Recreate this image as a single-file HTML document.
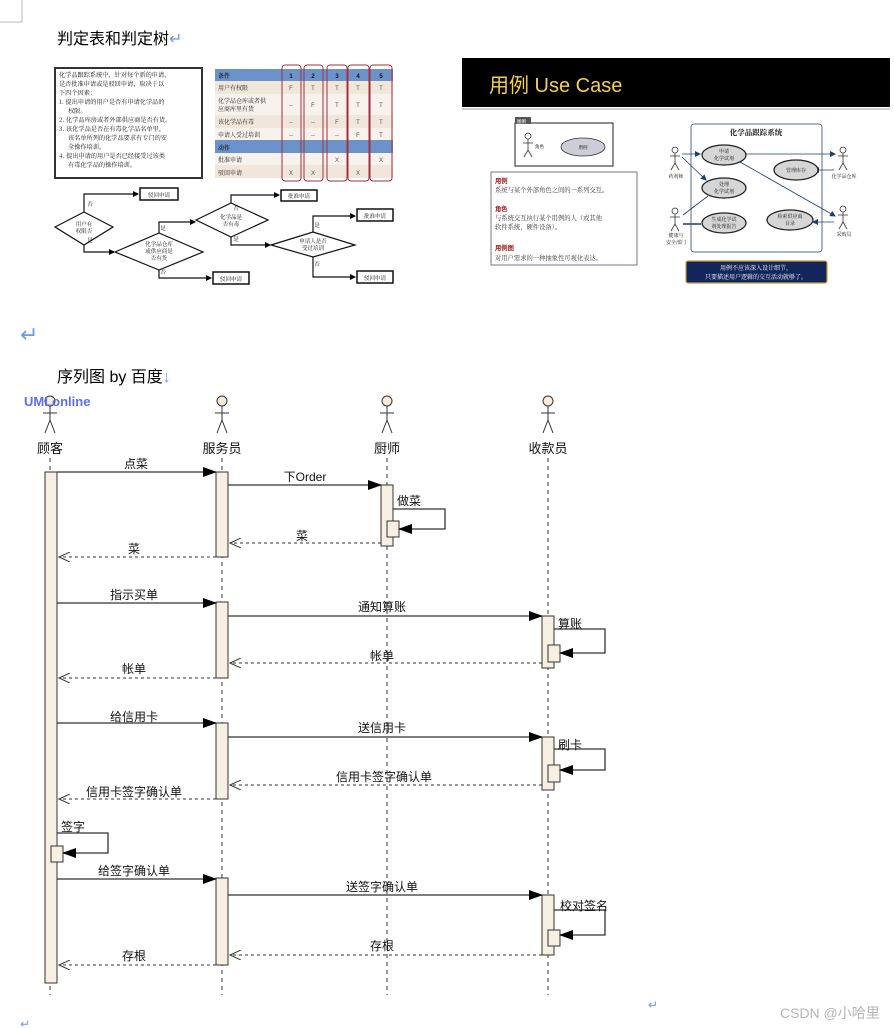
<!DOCTYPE html>
<html><head><meta charset="utf-8"><style>
html,body{margin:0;padding:0;background:#fff;}
svg{display:block;}
text{font-family:"Liberation Sans","Noto Sans CJK SC",sans-serif;}
.s{font-family:"Noto Serif CJK SC","Liberation Serif",serif;}
</style></head><body>
<svg width="894" height="1028" viewBox="0 0 894 1028" xmlns="http://www.w3.org/2000/svg">
<defs>
<marker id="af" markerWidth="14" markerHeight="10" refX="13" refY="5" orient="auto" markerUnits="userSpaceOnUse"><path d="M0,0 L14,5 L0,10 Z" fill="#000"/></marker>
<marker id="ao" markerWidth="12" markerHeight="10" refX="11" refY="5" orient="auto" markerUnits="userSpaceOnUse"><path d="M0,0 L11,5 L0,10" fill="none" stroke="#333" stroke-width="1"/></marker>
<marker id="as" markerWidth="6" markerHeight="6" refX="5" refY="3" orient="auto" markerUnits="userSpaceOnUse"><path d="M0,0 L6,3 L0,6 Z" fill="#000"/></marker>
<marker id="an" markerWidth="6" markerHeight="6" refX="5" refY="3" orient="auto" markerUnits="userSpaceOnUse"><path d="M0,0 L6,3 L0,6 Z" fill="#1f3b7a"/></marker>
</defs>
<path d="M22,0 L22,22 L0,22" fill="none" stroke="#bbb" stroke-width="1"/>
<text x="57" y="44" font-size="16" fill="#000">判定表和判定树<tspan fill="#6a9be8">↵</tspan></text>

<rect x="55" y="68" width="147" height="110" fill="#fff" stroke="#333" stroke-width="2"/>
<g class="s" font-size="6.2" fill="#111">
<text x="59" y="77" class="s">化学品跟踪系统中，针对每个新的申请，</text>
<text x="59" y="86" class="s">是否批准申请或是驳回申请，取决于以</text>
<text x="59" y="95" class="s">下四个因素：</text>
<text x="59" y="104" class="s">1.  提出申请的用户是否有申请化学品的</text>
<text x="68" y="113" class="s">权限。</text>
<text x="59" y="122" class="s">2.  化学品库房或者外部供应商是否有货。</text>
<text x="59" y="131" class="s">3.  该化学品是否在有毒化学品名单里，</text>
<text x="68" y="140" class="s">该名单所列的化学品要求有专门的安</text>
<text x="68" y="149" class="s">全操作培训。</text>
<text x="59" y="158" class="s">4.  提出申请的用户是否已经接受过该类</text>
<text x="68" y="167" class="s">有毒化学品的操作培训。</text>
</g>
<rect x="215" y="69" width="178" height="12" fill="#6b93c9"/>
<rect x="215" y="81" width="178" height="13" fill="#f1e6db"/>
<rect x="215" y="94" width="178" height="21" fill="#f8f2ec"/>
<rect x="215" y="115" width="178" height="13" fill="#f1e6db"/>
<rect x="215" y="128" width="178" height="12" fill="#f8f2ec"/>
<rect x="215" y="140" width="178" height="13" fill="#6b93c9"/>
<rect x="215" y="153" width="178" height="12" fill="#f8f2ec"/>
<rect x="215" y="165" width="178" height="13" fill="#f1e6db"/>
<g font-size="6" fill="#222" class="s">
<text x="218" y="78" fill="#223" font-weight="bold" class="s">条件</text>
<text x="218" y="90" class="s">用户有权限</text>
<text x="218" y="103" class="s">化学品仓库或者供</text><text x="218" y="111" class="s">应商库里有货</text>
<text x="218" y="124" class="s">该化学品有毒</text>
<text x="218" y="137" class="s">申请人受过培训</text>
<text x="218" y="150" fill="#223" font-weight="bold" class="s">动作</text>
<text x="218" y="162" class="s">批准申请</text>
<text x="218" y="175" class="s">驳回申请</text>
</g>
<g font-size="6" fill="#555" text-anchor="middle">
<text x="291" y="78" fill="#111" font-weight="bold">1</text><text x="313" y="78" fill="#111" font-weight="bold">2</text><text x="337" y="78" fill="#111" font-weight="bold">3</text><text x="358" y="78" fill="#111" font-weight="bold">4</text><text x="381" y="78" fill="#111" font-weight="bold">5</text>
<text x="291" y="90">F</text><text x="313" y="90">T</text><text x="337" y="90">T</text><text x="358" y="90">T</text><text x="381" y="90">T</text>
<text x="291" y="107">--</text><text x="313" y="107">F</text><text x="337" y="107">T</text><text x="358" y="107">T</text><text x="381" y="107">T</text>
<text x="291" y="124">--</text><text x="313" y="124">--</text><text x="337" y="124">F</text><text x="358" y="124">T</text><text x="381" y="124">T</text>
<text x="291" y="137">--</text><text x="313" y="137">--</text><text x="337" y="137">--</text><text x="358" y="137">F</text><text x="381" y="137">T</text>
<text x="337" y="162">X</text><text x="381" y="162">X</text>
<text x="291" y="175">X</text><text x="313" y="175">X</text><text x="358" y="175">X</text>
</g>
<g fill="none" stroke="#a03040" stroke-width="1">
<rect x="282" y="65" width="19" height="116" rx="3"/>
<rect x="304" y="65" width="19" height="116" rx="3"/>
<rect x="327" y="65" width="20" height="116" rx="3"/>
<rect x="348" y="65" width="21" height="116" rx="3"/>
<rect x="370" y="65" width="22" height="116" rx="3"/>
</g>
<g fill="none" stroke="#111" stroke-width="1.2">
<polygon points="55,227 84,212 113,227 84,245" fill="#fff"/>
<polygon points="115,252 159,233 203,252 159,270" fill="#fff"/>
<polygon points="196,220 231,203 268,220 231,237" fill="#fff"/>
<polygon points="271,245 313,232 355,245 313,257" fill="#fff"/>
<path d="M84,212 V194 H138" marker-end="url(#as)"/>
<path d="M84,245 V252 H114" marker-end="url(#as)"/>
<path d="M159,233 V222 H195" marker-end="url(#as)"/>
<path d="M159,270 V278 H211" marker-end="url(#as)"/>
<path d="M231,203 V195 H279" marker-end="url(#as)"/>
<path d="M231,237 V245 H270" marker-end="url(#as)"/>
<path d="M313,232 V216 H355" marker-end="url(#as)"/>
<path d="M313,257 V277 H355" marker-end="url(#as)"/>
<rect x="140" y="188" width="38" height="12" stroke-width="1.5" fill="#fff"/>
<rect x="213" y="272" width="36" height="12" stroke-width="1.5" fill="#fff"/>
<rect x="281" y="190" width="36" height="11" stroke-width="1.5" fill="#fff"/>
<rect x="357" y="209" width="36" height="12" stroke-width="1.5" fill="#fff"/>
<rect x="357" y="271" width="36" height="12" stroke-width="1.5" fill="#fff"/>
</g>
<g font-size="5.5" fill="#111" text-anchor="middle" class="s">
<text x="159" y="197" class="s">驳回申请</text>
<text x="231" y="281" class="s">驳回申请</text>
<text x="299" y="198" class="s">批准申请</text>
<text x="375" y="218" class="s">批准申请</text>
<text x="375" y="280" class="s">驳回申请</text>
<text x="84" y="226" class="s">用户有</text><text x="84" y="233" class="s">权限否</text>
<text x="159" y="246" class="s">化学品仓库</text><text x="159" y="253" class="s">或供应商是</text><text x="159" y="260" class="s">否有货</text>
<text x="231" y="219" class="s">化学品是</text><text x="231" y="226" class="s">否有毒</text>
<text x="313" y="243" class="s">申请人是否</text><text x="313" y="250" class="s">受过培训</text>
<text x="90" y="206" class="s">否</text><text x="90" y="242" class="s">是</text>
<text x="163" y="230" class="s">是</text><text x="163" y="274" class="s">否</text>
<text x="236" y="210" class="s">否</text><text x="236" y="241" class="s">是</text>
<text x="317" y="227" class="s">是</text><text x="317" y="266" class="s">否</text>
</g>

<rect x="462" y="58" width="428" height="49" fill="#000"/>
<line x1="462" y1="109" x2="890" y2="109" stroke="#999" stroke-width="1"/>
<text x="489" y="92" font-size="20" fill="#f4d050">用例 Use Case</text>
<rect x="515" y="123" width="98" height="43" fill="#fff" stroke="#444" stroke-width="1.2"/>
<rect x="515" y="117" width="16" height="7" fill="#555"/>
<text x="517" y="123" font-size="4.5" fill="#fff">图例</text>
<g stroke="#333" stroke-width="0.8" fill="none">
<circle cx="528" cy="136" r="3" fill="#fff"/><path d="M528,139 V150 M523,143 H533 M528,150 L524,157 M528,150 L532,157"/>
</g>
<text x="535" y="148" font-size="4.5" fill="#333">角色</text>
<ellipse cx="583" cy="147" rx="22" ry="9" fill="#cccdd8" stroke="#333" stroke-width="0.8"/>
<text x="583" y="149" font-size="4.5" fill="#333" text-anchor="middle">用例</text>
<rect x="491" y="172" width="146" height="93" fill="#fff" stroke="#778" stroke-width="1"/>
<g font-size="6.3">
<text x="495" y="183" fill="#a01818" font-weight="bold">用例</text>
<text x="495" y="192" fill="#333" class="s">系统与某个外部角色之间的一系列交互。</text>
<text x="495" y="211" fill="#a01818" font-weight="bold">角色</text>
<text x="495" y="220" fill="#333" class="s">与系统交互执行某个用例的人（或其他</text>
<text x="495" y="229" fill="#333" class="s">软件系统，硬件设备）。</text>
<text x="495" y="250" fill="#a01818" font-weight="bold">用例图</text>
<text x="495" y="260" fill="#333" class="s">对用户需求的一种抽象性可视化表达。</text>
</g>
<rect x="691" y="124" width="131" height="128" rx="3" fill="#fff" stroke="#5a6a9a" stroke-width="1"/>
<text x="756" y="135" font-size="7.5" fill="#111" text-anchor="middle" class="s" font-weight="bold">化学品跟踪系统</text>
<g stroke="#333" stroke-width="0.8" fill="none">
<circle cx="675" cy="150" r="3" fill="#fff"/><path d="M675,153 V163 M670,156 H680 M675,163 L671,170 M675,163 L679,170"/>
<circle cx="675" cy="211" r="3" fill="#fff"/><path d="M675,214 V224 M670,217 H680 M675,224 L671,231 M675,224 L679,231"/>
<circle cx="843" cy="150" r="3" fill="#fff"/><path d="M843,153 V163 M838,156 H848 M843,163 L839,170 M843,163 L847,170"/>
<circle cx="843" cy="209" r="3" fill="#fff"/><path d="M843,212 V222 M838,215 H848 M843,222 L839,229 M843,222 L847,229"/>
</g>
<g stroke="#1f3b7a" stroke-width="0.8" fill="none">
<path d="M682,154 H700" marker-end="url(#an)"/>
<path d="M682,157 L706,180" marker-end="url(#an)"/>
<path d="M683,215 L708,196"/>
<path d="M683,224 H701" stroke-width="1.5"/>
<path d="M746,154 H835" marker-end="url(#an)"/>
<path d="M740,162 L835,216" marker-end="url(#an)"/>
<path d="M834,170 H814" marker-end="url(#an)"/>
<path d="M834,222 H813" marker-end="url(#an)"/>
</g>
<g stroke="#222" stroke-width="1.3" fill="#d6d6d6">
<ellipse cx="724" cy="155" rx="22" ry="10"/>
<ellipse cx="796" cy="170" rx="22" ry="10"/>
<ellipse cx="724" cy="188" rx="22" ry="10"/>
<ellipse cx="724" cy="223" rx="22" ry="10"/>
<ellipse cx="790" cy="220" rx="23" ry="10"/>
</g>
<g font-size="5" fill="#111" text-anchor="middle" class="s">
<text x="724" y="153" class="s">申请</text><text x="724" y="160" class="s">化学试剂</text>
<text x="796" y="172" class="s">管理库存</text>
<text x="724" y="186" class="s">处理</text><text x="724" y="193" class="s">化学试剂</text>
<text x="724" y="221" class="s">生成化学试</text><text x="724" y="228" class="s">剂处理报告</text>
<text x="790" y="218" class="s">检索供应商</text><text x="790" y="225" class="s">目录</text>
<text x="676" y="178" class="s">药剂师</text>
<text x="676" y="237" class="s">健康与</text><text x="676" y="244" class="s">安全部门</text>
<text x="844" y="178" class="s">化学品仓库</text>
<text x="844" y="236" class="s">采购员</text>
</g>
<rect x="686" y="261" width="141" height="22" rx="2" fill="#13255a" stroke="#c9a030" stroke-width="1.2"/>
<text x="756" y="270" font-size="6" fill="#fff" text-anchor="middle" class="s">用例不应该深入设计细节，</text>
<text x="756" y="279" font-size="6" fill="#fff" text-anchor="middle" class="s">只要描述用户逻辑的交互活动就够了。</text>

<text x="20" y="342" font-size="22" fill="#6a9be8">↵</text>
<text x="57" y="382" font-size="16" fill="#000">序列图 by 百度<tspan fill="#6a9be8">↓</tspan></text>

<g stroke="#333" stroke-width="1" fill="none">
<g><circle cx="50" cy="401" r="5" fill="#f6ecd9"/><path d="M50,406 V420 M43,413 H57 M50,420 L45,433 M50,420 L55,433"/></g>
<g><circle cx="222" cy="401" r="5" fill="#f6ecd9"/><path d="M222,406 V420 M215,413 H229 M222,420 L217,433 M222,420 L227,433"/></g>
<g><circle cx="387" cy="401" r="5" fill="#f6ecd9"/><path d="M387,406 V420 M380,413 H394 M387,420 L382,433 M387,420 L392,433"/></g>
<g><circle cx="548" cy="401" r="5" fill="#f6ecd9"/><path d="M548,406 V420 M541,413 H555 M548,420 L543,433 M548,420 L553,433"/></g>
<g stroke-dasharray="4,4"><path d="M50,458 V995"/><path d="M222,458 V995"/><path d="M387,458 V995"/><path d="M548,458 V995"/></g>
</g>
<text x="24" y="406" font-size="13" fill="#5d6df0" font-weight="bold">UMLonline</text>
<g font-size="13" fill="#111" text-anchor="middle">
<text x="50" y="453">顾客</text><text x="222" y="453">服务员</text><text x="387" y="453">厨师</text><text x="548" y="453">收款员</text>
</g>
<g fill="#f7efe2" stroke="#333" stroke-width="1">
<rect x="45" y="472" width="12" height="511"/>
<rect x="216" y="472" width="12" height="85"/>
<rect x="216" y="602" width="12" height="76"/>
<rect x="216" y="723" width="12" height="76"/>
<rect x="216" y="878" width="12" height="87"/>
<rect x="381" y="485" width="12" height="61"/>
<rect x="542" y="616" width="12" height="52"/>
<rect x="542" y="737" width="12" height="53"/>
<rect x="542" y="895" width="12" height="60"/>
<rect x="387" y="521" width="12" height="16"/>
<rect x="548" y="645" width="12" height="17"/>
<rect x="548" y="765" width="12" height="17"/>
<rect x="548" y="930" width="12" height="16"/>
<rect x="51" y="846" width="12" height="16"/>
</g>
<g stroke="#333" stroke-width="1.3" fill="none">
<path d="M57,472 H216" marker-end="url(#af)"/>
<path d="M228,485 H381" marker-end="url(#af)"/>
<path d="M393,509 H445 V529 H399" marker-end="url(#af)"/>
<path d="M57,603 H216" marker-end="url(#af)"/>
<path d="M228,616 H542" marker-end="url(#af)"/>
<path d="M554,629 H605 V653 H560" marker-end="url(#af)"/>
<path d="M57,723 H216" marker-end="url(#af)"/>
<path d="M228,737 H542" marker-end="url(#af)"/>
<path d="M554,749 H605 V770 H560" marker-end="url(#af)"/>
<path d="M57,833 H108 V853 H63" marker-end="url(#af)"/>
<path d="M57,879 H216" marker-end="url(#af)"/>
<path d="M228,895 H542" marker-end="url(#af)"/>
<path d="M554,910 H605 V935 H560" marker-end="url(#af)"/>
</g>
<g stroke="#333" stroke-width="1.1" fill="none" stroke-dasharray="3,3">
<path d="M381,543 H230" marker-end="url(#ao)"/>
<path d="M216,557 H59" marker-end="url(#ao)"/>
<path d="M542,663 H230" marker-end="url(#ao)"/>
<path d="M216,678 H59" marker-end="url(#ao)"/>
<path d="M542,785 H230" marker-end="url(#ao)"/>
<path d="M216,799 H59" marker-end="url(#ao)"/>
<path d="M542,955 H230" marker-end="url(#ao)"/>
<path d="M216,965 H59" marker-end="url(#ao)"/>
</g>
<g font-size="12" fill="#111" text-anchor="middle">
<text x="136" y="468">点菜</text>
<text x="305" y="481">下Order</text>
<text x="302" y="540">菜</text>
<text x="134" y="553">菜</text>
<text x="134" y="599">指示买单</text>
<text x="382" y="611">通知算账</text>
<text x="382" y="660">帐单</text>
<text x="134" y="673">帐单</text>
<text x="134" y="721">给信用卡</text>
<text x="382" y="732">送信用卡</text>
<text x="384" y="781">信用卡签字确认单</text>
<text x="134" y="796">信用卡签字确认单</text>
<text x="134" y="875">给签字确认单</text>
<text x="382" y="891">送签字确认单</text>
<text x="382" y="950">存根</text>
<text x="134" y="960">存根</text>
</g>
<g font-size="12" fill="#111">
<text x="397" y="505">做菜</text>
<text x="558" y="628">算账</text>
<text x="558" y="749">刷卡</text>
<text x="61" y="831">签字</text>
<text x="560" y="910">校对签名</text>
</g>
<text x="648" y="1009" font-size="12" fill="#6a9be8">↵</text>
<text x="20" y="1028" font-size="12" fill="#6a9be8">↵</text>
<text x="780" y="1018" font-size="14" fill="#b5b5b5">CSDN @小哈里</text>
</svg>
</body></html>
